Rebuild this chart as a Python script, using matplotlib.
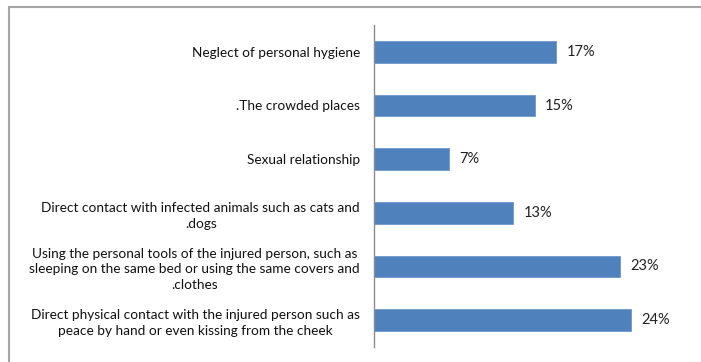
import matplotlib.pyplot as plt
import matplotlib.patches as patches

# data
labels = [
    "Neglect of personal hygiene",
    ".The crowded places",
    "Sexual relationship",
    "Direct contact with infected animals such as cats and\n.dogs",
    "Using the personal tools of the injured person, such as\nsleeping on the same bed or using the same covers and\n.clothes",
    "Direct physical contact with the injured person such as\npeace by hand or even kissing from the cheek",
]
values = [17, 15, 7, 13, 23, 24]

plt.rcParams['font.family'] = ['Lato', 'DejaVu Sans']

fig = plt.figure(figsize=(7.01, 3.62), dpi=100)
ax = fig.add_axes([374 / 701, 1 - 347 / 362, 321 / 701, 322 / 362])

ypos = list(range(len(values)))
bars = ax.barh(ypos, values, height=0.4, color='#4F81BD', edgecolor='#6f97c8', linewidth=0.6)
ax.set_ylim(-0.5, len(values) - 0.5)
ax.invert_yaxis()
ax.set_xlim(0, 30)

ax.set_yticks(ypos)
ax.set_yticklabels(labels, fontsize=9.8, color='#111111', linespacing=1.38)
for t in ax.get_yticklabels():
    t.set_multialignment('center')
ax.tick_params(axis='y', length=0, pad=10)
ax.set_xticks([])

for side in ['top', 'right', 'bottom']:
    ax.spines[side].set_visible(False)
ax.spines['left'].set_color('#8c8c8c')
ax.spines['left'].set_linewidth(1.0)

for b, v in zip(bars, values):
    ax.text(b.get_width() + 1.0, b.get_y() + b.get_height() / 2, "{}%".format(v),
            va='center', ha='left', fontsize=10.5, color='#222222')

# outer chart border (cut off at right and bottom)
fig.patches.append(patches.Rectangle((9 / 701, -0.1), 1.2, 1 - 7 / 362 + 0.1,
                                     transform=fig.transFigure, fill=False,
                                     edgecolor='#a6a6a6', linewidth=1.5))

fig.savefig('out.png', dpi=100)
